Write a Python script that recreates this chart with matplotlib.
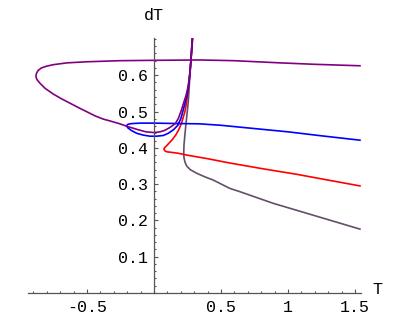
import matplotlib
matplotlib.use("Agg")
import matplotlib.pyplot as plt
from matplotlib.ticker import MultipleLocator, FixedLocator

# ---- data ----
purple_x = [0.286, 0.280, 0.276, 0.268, 0.255, 0.240, 0.224, 0.205, 0.182, 0.160, 0.119, 0.080, 0.045, 0.0,
            -0.06, -0.12, -0.192, -0.254, -0.328, -0.378, -0.44, -0.502, -0.565, -0.627, -0.69, -0.751,
            -0.813, -0.851, -0.873, -0.881, -0.877, -0.865, -0.84, -0.80, -0.751, -0.65, -0.502, -0.254,
            0.0, 0.343, 0.6, 0.94, 1.2, 1.537]
purple_y = [0.700, 0.670, 0.642, 0.605, 0.570, 0.545, 0.527, 0.504, 0.481, 0.467, 0.456, 0.448, 0.444, 0.442,
            0.444, 0.450, 0.458, 0.466, 0.474, 0.479, 0.488, 0.4995, 0.511, 0.523, 0.535, 0.548,
            0.564, 0.578, 0.588, 0.596, 0.605, 0.613, 0.620, 0.625, 0.629, 0.634, 0.637, 0.640,
            0.641, 0.642, 0.640, 0.634, 0.630, 0.626]

blue_x = [0.287, 0.281, 0.276, 0.268, 0.258, 0.246, 0.234, 0.218, 0.201, 0.178, 0.146, 0.107, 0.07, 0.02,
          -0.03, -0.08, -0.129, -0.17, -0.195, -0.204, -0.198, -0.18, -0.154, -0.10, 0.0, 0.15, 0.343,
          0.5, 0.75, 1.0, 1.25, 1.537]
blue_y = [0.700, 0.670, 0.642, 0.605, 0.570, 0.545, 0.527, 0.504, 0.481, 0.462, 0.450, 0.440, 0.434, 0.432,
          0.432, 0.435, 0.440, 0.448, 0.455, 0.460, 0.464, 0.466, 0.467, 0.468, 0.468, 0.467, 0.466,
          0.462, 0.453, 0.444, 0.433, 0.421]

red_x = [0.288, 0.283, 0.276, 0.266, 0.255, 0.244, 0.231, 0.205, 0.185, 0.162, 0.138, 0.115, 0.095, 0.082,
         0.074, 0.080, 0.095, 0.119, 0.18, 0.244, 0.40, 0.567, 0.80, 1.065, 1.30, 1.537]
red_y = [0.700, 0.670, 0.642, 0.600, 0.560, 0.527, 0.500, 0.467, 0.450, 0.435, 0.423, 0.414, 0.406, 0.401,
         0.397, 0.392, 0.389, 0.388, 0.385, 0.380, 0.370, 0.358, 0.343, 0.327, 0.311, 0.295]

grey_x = [0.286, 0.281, 0.276, 0.266, 0.256, 0.247, 0.239, 0.231, 0.224, 0.222, 0.224, 0.232, 0.244, 0.27,
          0.318, 0.38, 0.443, 0.567, 0.642, 0.89, 1.1, 1.3, 1.537]
grey_y = [0.702, 0.670, 0.642, 0.585, 0.527, 0.495, 0.467, 0.437, 0.408, 0.385, 0.372, 0.360, 0.350, 0.340,
          0.330, 0.320, 0.311, 0.288, 0.279, 0.247, 0.224, 0.202, 0.176]

x_ticks = [-0.5, 0.5, 1.0, 1.5]
x_tick_labels = ["-0.5", "0.5", "1", "1.5"]
y_ticks = [0.1, 0.2, 0.3, 0.4, 0.5, 0.6]
y_tick_labels = ["0.1", "0.2", "0.3", "0.4", "0.5", "0.6"]

W, H = 416, 319
fig = plt.figure(figsize=(W / 100, H / 100), dpi=100)
ax = fig.add_axes([28 / W, 26 / H, 332.7 / W, 255 / H])
ax.set_xlim(-0.94, 1.5425)
ax.set_ylim(0, 0.7025)

lw = 1.2
ax.plot(grey_x, grey_y, color="#654d6b", lw=lw)
ax.plot(red_x, red_y, color="#ff0000", lw=lw)
ax.plot(blue_x, blue_y, color="#0000ff", lw=lw)
ax.plot(purple_x, purple_y, color="#800080", lw=lw)

for s in ("top", "right"):
    ax.spines[s].set_visible(False)
ax.spines["left"].set_position(("data", 0))
ax.spines["bottom"].set_position(("data", 0))
for s in ("left", "bottom"):
    ax.spines[s].set_color("#555555")
    ax.spines[s].set_linewidth(0.9)

font = "Liberation Mono"
ax.xaxis.set_major_locator(FixedLocator(x_ticks))
ax.set_xticklabels(x_tick_labels, family=font, fontsize=12)
ax.xaxis.set_minor_locator(MultipleLocator(0.1))
ax.yaxis.set_major_locator(FixedLocator(y_ticks))
ax.set_yticklabels(y_tick_labels, family=font, fontsize=12)
ax.yaxis.set_minor_locator(MultipleLocator(0.02))
ax.tick_params(which="both", direction="in", color="#555555", width=0.8)
ax.tick_params(which="major", length=2.6)
ax.tick_params(axis="x", which="major", pad=5)
ax.tick_params(axis="y", which="major", pad=4)
ax.tick_params(which="minor", length=1.3)

fig.text(154 / W, 1 - 15 / H, "dT", family=font, fontsize=12, ha="center", va="center")
fig.text(377 / W, 1 - 289 / H, "T", family=font, fontsize=12, ha="center", va="center")

fig.savefig("out.png", dpi=100)
